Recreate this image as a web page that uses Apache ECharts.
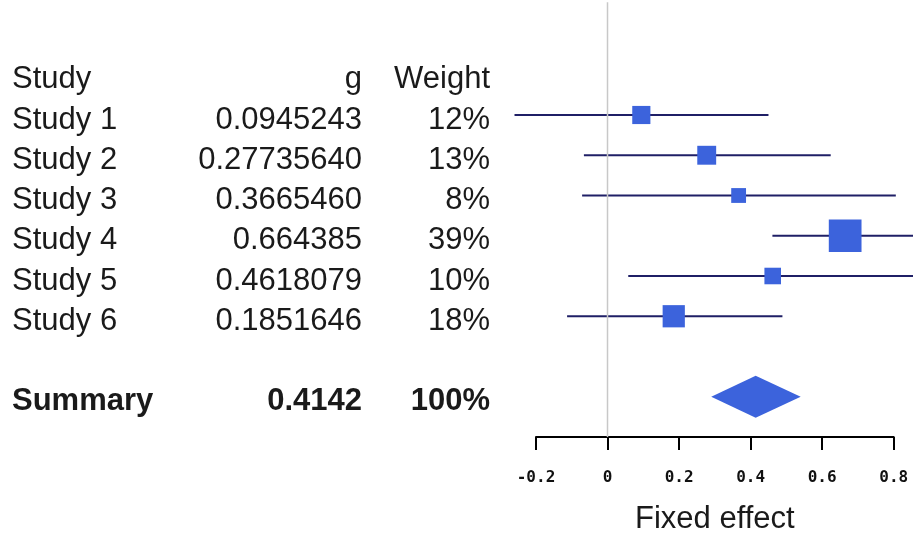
<!DOCTYPE html>
<html><head><meta charset="utf-8">
<script src="https://cdn.jsdelivr.net/npm/echarts@6/dist/echarts.min.js"></script>
<style>html,body{margin:0;padding:0;background:#fff}#c{width:913px;height:538px}</style>
</head><body><div id="c"></div>
<script>
const studies = ['Study 1','Study 2','Study 3','Study 4','Study 5','Study 6'];
const gLabels = ['0.0945243','0.27735640','0.3665460','0.664385','0.4618079','0.1851646'];
const gValues = [0.0945243,0.2773564,0.366546,0.664385,0.4618079,0.1851646];
const weights = [12,13,8,39,10,18];
const weightLabels = ['12%','13%','8%','39%','10%','18%'];
const ciLower = [-0.26,-0.066,-0.071,0.461,0.058,-0.113];
const ciUpper = [0.45,0.624,0.806,0.867,0.866,0.489];
const headerLabels = ['Study','g','Weight'];
const summaryLabels = ['Summary','0.4142','100%'];
const summaryValue = 0.4142;
const summaryLower = 0.29;
const summaryUpper = 0.54;
const axisMin = -0.2, axisMax = 0.8, axisInterval = 0.2;
const axisTitle = 'Fixed effect';

// table rows: [rowIndex, labels, bold]
const tableRows = [[0, headerLabels, false]]
  .concat(studies.map((s,i)=>[i+1, [s, gLabels[i], weightLabels[i]], false]))
  .concat([[8, summaryLabels, true]]);

const chart = echarts.init(document.getElementById('c'), null, {renderer:'canvas'});
const TEXT_FONT = 'Liberation Sans, Arial, sans-serif';
const colX = [12, 362, 490];
const colAlign = ['left','right','right'];
const PX_PER_UNIT = 357.7;
const dataMin = -0.3, dataMax = -0.3 + (913 - 500.2) / PX_PER_UNIT;

chart.setOption({
  animation:false,
  backgroundColor:'#fff',
  grid:[
    {left:500.2, width:(dataMax-dataMin)*PX_PER_UNIT, top:2.3, height:434.7},
    {left:536, width:357.7, top:417, height:20}
  ],
  xAxis:[
    {gridIndex:0, type:'value', min:dataMin, max:dataMax, show:false},
    {gridIndex:1, type:'value', min:axisMin, max:axisMax, interval:axisInterval, position:'bottom',
      axisLine:{show:true, onZero:false, lineStyle:{color:'#000', width:2}},
      axisTick:{show:true, length:13, lineStyle:{color:'#000', width:2}},
      splitLine:{show:false},
      axisLabel:{margin:33, fontFamily:'DejaVu Sans Mono', fontWeight:'bold', fontSize:16, color:'#111',
        formatter:v=>String(+(+v).toFixed(1))},
      name:axisTitle, nameLocation:'middle', nameGap:67,
      nameTextStyle:{fontFamily:TEXT_FONT, fontSize:31, color:'#1a1a1a'}
    }
  ],
  yAxis:[
    {gridIndex:0, type:'value', min:-1.8, max:9, inverse:true, show:false},
    {gridIndex:1, type:'value', min:0, max:1, show:false}
  ],
  series:[
    {type:'line', xAxisIndex:0, yAxisIndex:0, silent:true, symbol:'none',
      data:[[0,-1.8],[0,9]], lineStyle:{color:'#c8c8c8', width:1.5}},
    {type:'custom', xAxisIndex:0, yAxisIndex:0, clip:false, silent:true,
      data: studies.map((s,i)=>[gValues[i], i+1, ciLower[i], ciUpper[i], weights[i]]),
      renderItem:(params, api)=>{
        const row = api.value(1);
        const lo = api.coord([api.value(2), row]);
        const hi = api.coord([api.value(3), row]);
        const c = api.coord([api.value(0), row]);
        const size = 5.24*Math.sqrt(api.value(4));
        return {type:'group', children:[
          {type:'line', shape:{x1:lo[0], y1:lo[1], x2:hi[0], y2:hi[1]}, style:{stroke:'#1f1f66', lineWidth:2}},
          {type:'rect', shape:{x:c[0]-size/2, y:c[1]-size/2, width:size, height:size}, style:{fill:'#3c63dc'}}
        ]};
      }},
    {type:'custom', xAxisIndex:0, yAxisIndex:0, clip:false, silent:true,
      data:[[summaryValue, 8, summaryLower, summaryUpper]],
      renderItem:(params, api)=>{
        const row = api.value(1);
        const lo = api.coord([api.value(2), row]);
        const hi = api.coord([api.value(3), row]);
        const c = api.coord([api.value(0), row]);
        return {type:'polygon', shape:{points:[[lo[0],c[1]],[c[0],c[1]-21],[hi[0],c[1]],[c[0],c[1]+21]]},
          style:{fill:'#3c63dc'}};
      }},
    {type:'custom', xAxisIndex:0, yAxisIndex:0, clip:false, silent:true,
      data: tableRows.map(r=>[0, r[0]]),
      renderItem:(params, api)=>{
        const r = tableRows[params.dataIndex];
        const y = api.coord([0, api.value(1)])[1] + 5;
        return {type:'group', children: r[1].map((t,j)=>({
          type:'text', x:colX[j], y:y,
          style:{text:t, fill:'#1a1a1a', align:colAlign[j], verticalAlign:'middle',
            font:(r[2]?'bold ':'')+'31px '+TEXT_FONT}
        }))};
      }}
  ]
});
</script>
</body></html>
